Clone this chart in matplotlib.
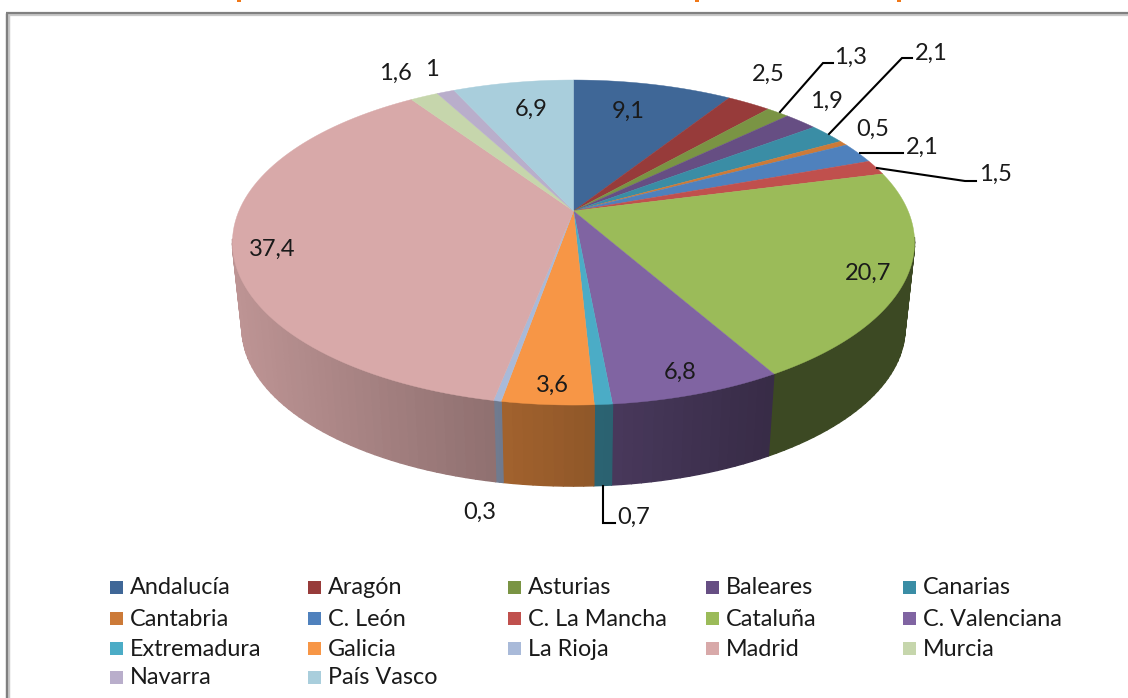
import numpy as np
import matplotlib
matplotlib.use('Agg')
import matplotlib.pyplot as plt
from matplotlib.collections import PolyCollection
from matplotlib.patches import Rectangle

regiones = ['Andalucía', 'Aragón', 'Asturias', 'Baleares', 'Canarias', 'Cantabria',
            'C. León', 'C. La Mancha', 'Cataluña', 'C. Valenciana', 'Extremadura',
            'Galicia', 'La Rioja', 'Madrid', 'Murcia', 'Navarra', 'País Vasco']
valores = [9.1, 2.5, 1.3, 1.9, 2.1, 0.5, 2.1, 1.5, 20.7, 6.8, 0.7, 3.6, 0.3, 37.4, 1.6, 1, 6.9]
etiquetas = ['9,1', '2,5', '1,3', '1,9', '2,1', '0,5', '2,1', '1,5', '20,7', '6,8', '0,7',
             '3,6', '0,3', '37,4', '1,6', '1', '6,9']
colores = ['#3F6797', '#973B3A', '#7A9444', '#664E83', '#3A8DA5', '#CC7A38', '#4F81BD',
           '#C0504D', '#9BBB59', '#8064A2', '#4BACC6', '#F79646', '#A9BAD9', '#D8A9A9',
           '#C6D6AC', '#B9AECB', '#A9CEDC']

plt.rcParams['font.family'] = ['Lato', 'DejaVu Sans']

fig = plt.figure(figsize=(11.28, 6.98), dpi=100)
ax = fig.add_axes([0, 0, 1, 1])
ax.set_xlim(0, 1128)
ax.set_ylim(698, 0)
ax.axis('off')

# marco del grafico
ax.plot([7.5, 7.5], [698, 13.5], color='#c8c8c8', lw=3.2, solid_capstyle='butt')
ax.plot([0 + 7.5, 1128], [14.5, 14.5], color='#c8c8c8', lw=1.6, solid_capstyle='butt')
ax.plot([6.5, 6.5], [698, 12.5], color='#808080', lw=1.6, solid_capstyle='butt')
ax.plot([5.8, 1128], [13, 13], color='#808080', lw=1.6, solid_capstyle='butt')

# restos del titulo cortado
for x0 in [237, 695, 897]:
    ax.add_patch(Rectangle((x0, 0), 3.5, 2.2, color='#F07818', lw=0))

# perspectiva de la tarta
k = 0.194
a = 156.4
b = 334.6


def rim(ang, escala=1.0, y0=211.0):
    u = np.sin(ang)
    v = np.cos(ang)
    w = 1 + k * v
    return 573.5 + escala * b * u / w, y0 + escala * (-a * v / w)


def oscurecer(col, f):
    return tuple(c * f for c in matplotlib.colors.to_rgb(col))


limites = np.concatenate([[0], np.cumsum(valores)]) / sum(valores) * 2 * np.pi

# pared lateral, solo la parte de delante
polis = []
cols = []
for i in range(len(valores)):
    n = max(2, int((limites[i + 1] - limites[i]) / np.radians(1.5)) + 1)
    angs = np.linspace(limites[i], limites[i + 1], n + 1)
    for a0, a1 in zip(angs[:-1], angs[1:]):
        if np.cos((a0 + a1) / 2) > -k + 0.02:
            continue
        xs0, ys0 = rim(a0)
        xs1, ys1 = rim(a1)
        xb0, yb0 = rim(a0, 0.972, 297.5)
        xb1, yb1 = rim(a1, 0.972, 297.5)
        polis.append([(xs0, ys0), (xs1, ys1), (xb1, yb1), (xb0, yb0)])
        xm = (xs0 + xs1) / 2
        f = 0.87 - (xm - 240) * 0.00082
        if xm > 770:
            f = 0.39
        cols.append(oscurecer(colores[i], f))
ax.add_collection(PolyCollection(polis, facecolors=cols, edgecolors=cols, linewidths=1.0, joinstyle='round'))

# cara superior
for i in range(len(valores)):
    angs = np.linspace(limites[i], limites[i + 1], 80)
    xs, ys = rim(angs)
    ax.fill(np.r_[573.5, xs], np.r_[211, ys], color=colores[i], lw=0.3)

# lineas guia
guias = [[(780, 112), (823, 63), (833, 63)],
         [(829, 134), (902, 58), (912, 58)],
         [(860, 153), (903, 153)],
         [(877, 168), (965, 181), (976, 181)],
         [(603, 486), (603, 523), (615, 523)]]
for g in guias:
    ax.plot([p[0] for p in g], [p[1] for p in g], color='black', lw=1.5, solid_joinstyle='miter')

# etiquetas de datos
pos_etiquetas = [(628, 111), (768, 74), (851, 57), (826, 101), (931, 53), (873, 129), (922, 147),
                 (995, 174), (868, 273), (680, 372), (634, 517), (552, 385), (480, 512),
                 (272, 249), (395, 73), (432, 69), (531, 109)]
for txt, (x, y) in zip(etiquetas, pos_etiquetas):
    ax.text(x, y, txt, ha='center', va='center', fontsize=17, color='#1a1a1a')

# leyenda
col_x = [110, 308, 508, 706, 903]
fila_y = [587, 618, 648, 677]
for i, nombre in enumerate(regiones):
    x = col_x[i % 5]
    y = fila_y[i // 5]
    ax.add_patch(Rectangle((x, y - 6.5), 13, 13, color=colores[i], lw=0))
    ax.text(x + 20, y + 1, nombre, ha='left', va='center', fontsize=16.8, color='#1a1a1a')

fig.savefig('out.png', dpi=100)
